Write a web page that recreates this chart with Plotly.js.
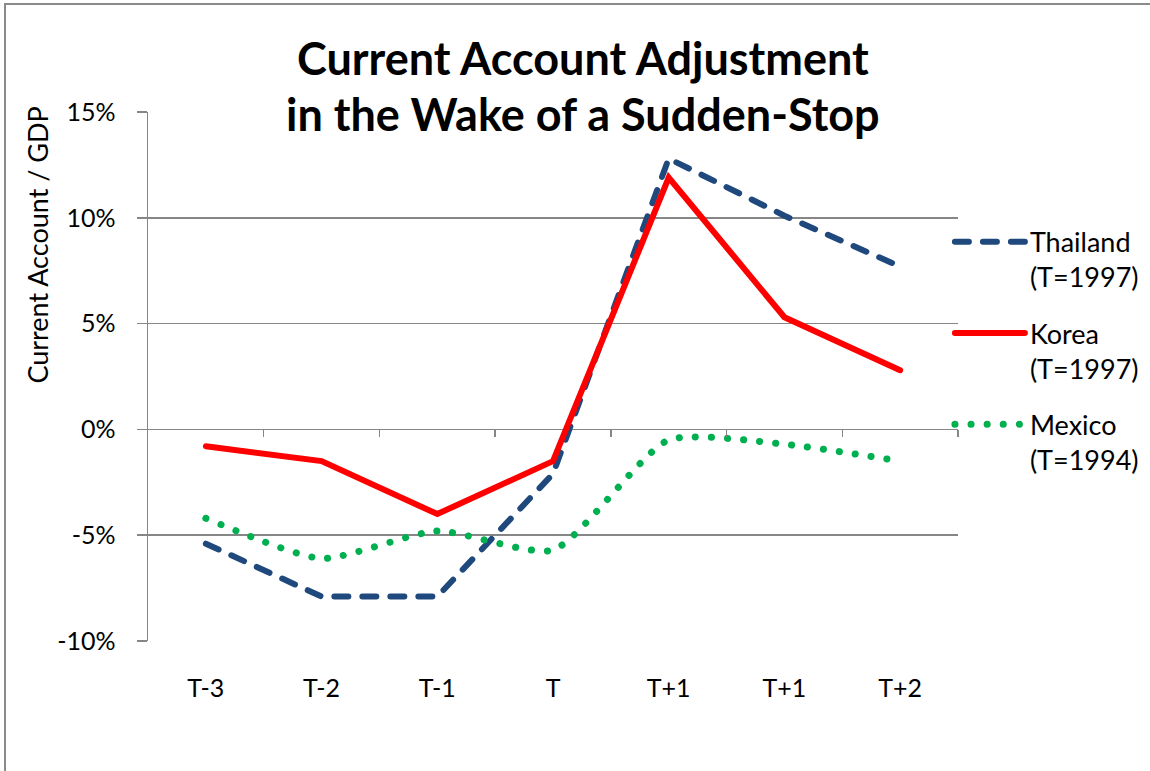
<!DOCTYPE html>
<html>
<head>
<meta charset="utf-8">
<script src="https://cdn.plot.ly/plotly-3.0.1.min.js"></script>
<style>
  html, body { margin: 0; padding: 0; background: #fff; overflow: hidden; }
  #wrap { position: relative; width: 1150px; height: 771px; }
  #chart { position: absolute; left: 0; top: 0; width: 1150px; height: 771px; }
  #frame { position: absolute; left: 4px; top: 3px; width: 1200px; height: 800px;
           border-left: 2px solid #8a8a8a; border-top: 2px solid #8a8a8a; pointer-events: none; }
  #chart path.js-line { stroke-linecap: round; }
  #chart .legendlines path { stroke-linecap: round; }
</style>
</head>
<body>
<div id="wrap">
  <div id="chart"></div>
  <div id="frame"></div>
</div>
<script>
const categories = ['T-3', 'T-2', 'T-1', 'T', 'T+1', 'T+1', 'T+2'];
const thailand = [-5.4, -7.9, -7.9, -2.1, 12.8, 10.1, 7.7];
const korea    = [-0.8, -1.5, -4.0, -1.5, 11.9, 5.3, 2.8];
const mexico   = [-4.2, -6.1, -4.8, -5.7, -0.5, -0.7, -1.5];
const seriesNames = ['Thailand<br>(T=1997)', 'Korea<br>(T=1997)', 'Mexico<br>(T=1994)'];
const titleLines = ['Current Account Adjustment', 'in the Wake of a Sudden-Stop'];
const yTitle = 'Current Account / GDP';
const yTicks = [-10, -5, 0, 5, 10, 15];
const yTickText = yTicks.map(v => v + '%');

const xIdx = categories.map((_, i) => i);
const boundaries = categories.map((_, i) => i + 0.5);
const FONT = 'Lato, "Open Sans", sans-serif';
const GRID = '#868686';

const traces = [
  { x: xIdx, y: thailand, name: seriesNames[0], type: 'scatter', mode: 'lines',
    line: { color: '#1F497D', width: 6, dash: '14px,14px' }, legendgroup: 'a' },
  { x: xIdx, y: korea, name: seriesNames[1], type: 'scatter', mode: 'lines',
    line: { color: '#FF0000', width: 6 }, legendgroup: 'b' },
  { x: xIdx, y: mexico, name: seriesNames[2], type: 'scatter', mode: 'lines',
    line: { color: '#00B050', width: 7, dash: '0.1px,16px', shape: 'spline', smoothing: 0.6 }, legendgroup: 'c' }
];

const layout = {
  width: 1150, height: 771,
  margin: { l: 148, r: 192, t: 112, b: 130, autoexpand: false },
  paper_bgcolor: '#fff', plot_bgcolor: '#fff',
  font: { family: FONT, size: 25, color: '#000' },
  showlegend: true,
  legend: {
    x: 0.99, xanchor: 'left', y: 0.80, yanchor: 'top',
    valign: 'top', tracegroupgap: 18, itemwidth: 70,
    font: { family: FONT, size: 27, color: '#000' },
    bgcolor: 'rgba(0,0,0,0)'
  },
  xaxis: {
    range: [-0.5, 6.5], tickmode: 'array', tickvals: xIdx, ticktext: categories,
    showgrid: false, zeroline: false, showline: false,
    ticks: 'outside', ticklen: 25, tickcolor: 'rgba(0,0,0,0)',
    tickfont: { family: FONT, size: 25, color: '#000' }, fixedrange: true
  },
  xaxis2: {
    overlaying: 'x', anchor: 'free', position: 0.4, side: 'bottom',
    range: [-0.5, 6.5], tickmode: 'array', tickvals: boundaries,
    showticklabels: false, ticks: 'outside', ticklen: 7, tickwidth: 1.5, tickcolor: GRID,
    showgrid: false, zeroline: false, showline: false
  },
  yaxis: {
    range: [-10, 15], tickmode: 'array', tickvals: yTicks, ticktext: yTickText,
    showgrid: true, gridcolor: GRID, gridwidth: 1.5,
    zeroline: false, showline: true, linecolor: GRID, linewidth: 1.5,
    ticks: 'outside', ticklen: 10, tickwidth: 1.5, tickcolor: GRID,
    ticklabelstandoff: 16,
    tickfont: { family: FONT, size: 25, color: '#000' }
  },
  annotations: [
    { text: '<b>' + titleLines[0] + '</b>', xref: 'paper', yref: 'paper',
      x: 0.537, y: 1.103, xanchor: 'center', yanchor: 'middle', showarrow: false,
      font: { family: FONT, size: 45, color: '#000' } },
    { text: '<b>' + titleLines[1] + '</b>', xref: 'paper', yref: 'paper',
      x: 0.537, y: 0.997, xanchor: 'center', yanchor: 'middle', showarrow: false,
      bgcolor: '#fff', borderpad: 2,
      font: { family: FONT, size: 45, color: '#000' } },
    { text: yTitle, xref: 'paper', yref: 'paper', x: -0.136, y: 0.749,
      xanchor: 'center', yanchor: 'middle', textangle: -90, showarrow: false,
      font: { family: FONT, size: 27, color: '#000' } }
  ]
};

// empty trace so the boundary-tick axis (xaxis2) is drawn
traces.push({ x: [], y: [], xaxis: 'x2', type: 'scatter', showlegend: false, hoverinfo: 'skip' });

Plotly.newPlot('chart', traces, layout, { displayModeBar: false, staticPlot: true });
</script>
</body>
</html>
